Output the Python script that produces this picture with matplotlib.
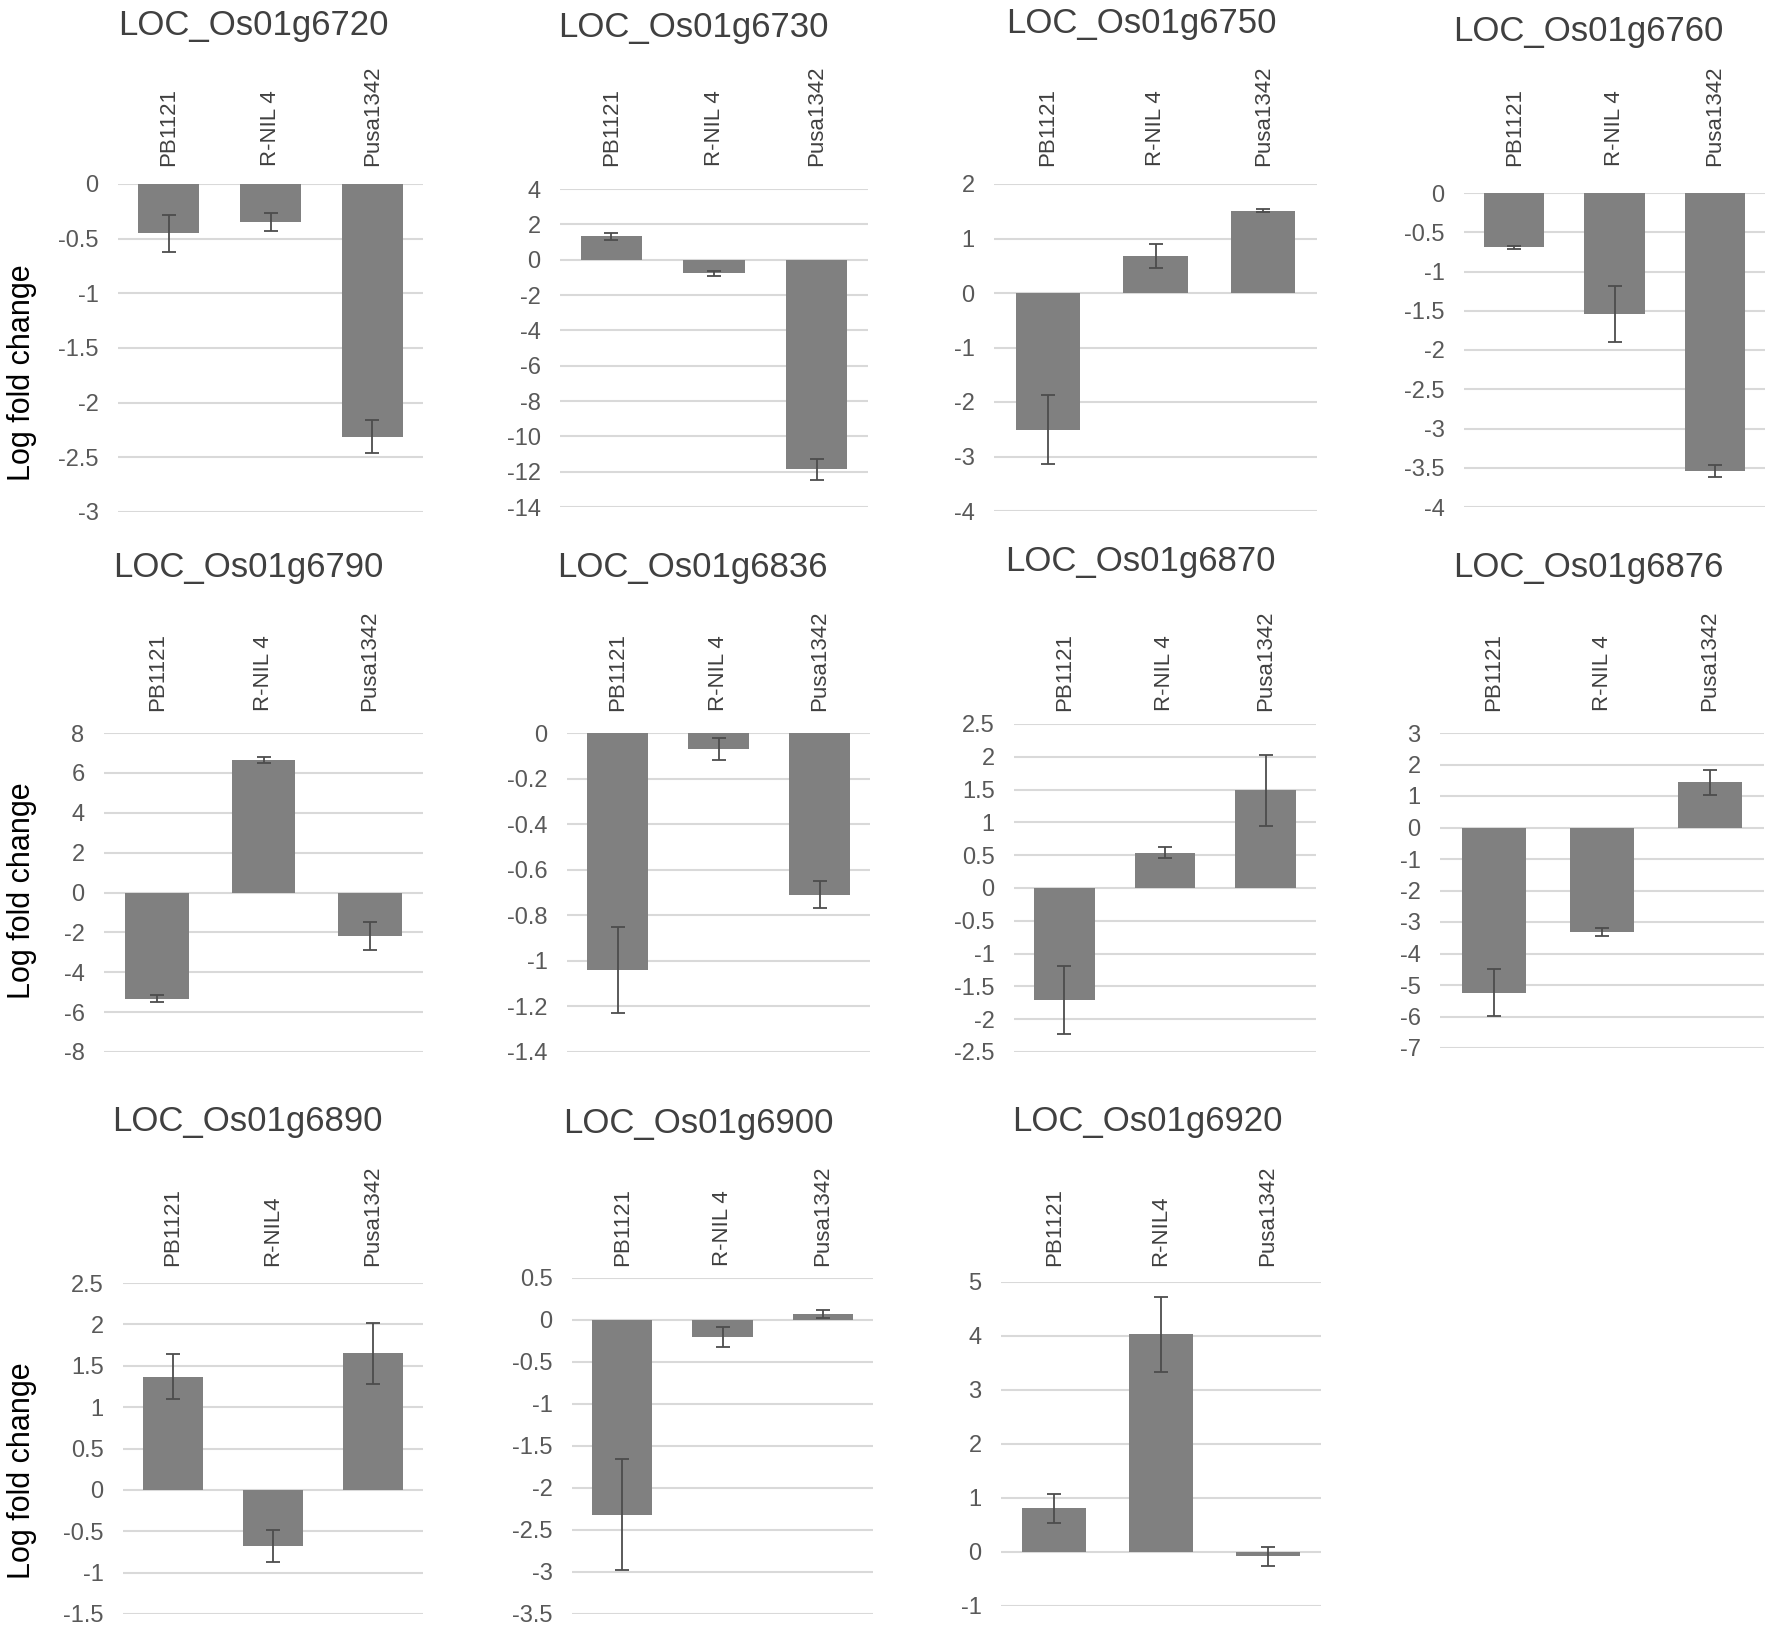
import numpy as np
import matplotlib.pyplot as plt
from matplotlib.transforms import blended_transform_factory

plt.rcParams['axes.unicode_minus'] = False

genes = ["LOC_Os01g6720", "LOC_Os01g6730", "LOC_Os01g6750", "LOC_Os01g6760",
         "LOC_Os01g6790", "LOC_Os01g6836", "LOC_Os01g6870", "LOC_Os01g6876",
         "LOC_Os01g6890", "LOC_Os01g6900", "LOC_Os01g6920"]
varieties = ["PB1121", "R-NIL 4", "Pusa1342"]
varieties_alt = ["PB1121", "R-NIL4", "Pusa1342"]   # spelling used in two panels

# log fold change (PB1121, R-NIL 4, Pusa1342) and error bars
means = [[-0.45, -0.35, -2.31],
         [1.32, -0.78, -11.87],
         [-2.51, 0.68, 1.51],
         [-0.69, -1.54, -3.54],
         [-5.33, 6.66, -2.18],
         [-1.04, -0.07, -0.71],
         [-1.71, 0.54, 1.49],
         [-5.24, -3.33, 1.44],
         [1.37, -0.68, 1.65],
         [-2.32, -0.20, 0.07],
         [0.81, 4.03, -0.08]]
errors = [[0.17, 0.083, 0.15],
          [0.20, 0.12, 0.59],
          [0.63, 0.22, 0.03],
          [0.02, 0.355, 0.08],
          [0.17, 0.15, 0.72],
          [0.19, 0.05, 0.06],
          [0.52, 0.08, 0.54],
          [0.74, 0.13, 0.40],
          [0.27, 0.19, 0.37],
          [0.66, 0.12, 0.045],
          [0.27, 0.69, 0.18]]
y_min = [-3, -14, -4, -4, -8, -1.4, -2.5, -7, -1.5, -3.5, -1]
y_max = [0, 4, 2, 0, 8, 0, 2.5, 3, 2.5, 0.5, 5]
y_step = [0.5, 2, 1, 0.5, 2, 0.2, 0.5, 1, 0.5, 0.5, 1]

# layout in pixels: left, right, top, bottom of each plot area
W, H = 1772, 1629
boxes = [(118, 423, 184, 512), (560, 868, 189, 507), (994, 1317, 184, 511), (1464, 1765, 193, 507),
         (104, 423, 733, 1052), (567, 870, 733, 1052), (1014, 1316, 724, 1052), (1440, 1764, 733, 1048),
         (123, 423, 1283, 1614), (572, 873, 1278, 1614), (1001, 1321, 1282, 1606)]
title_pos = [(253, 25), (693, 27), (1141, 23), (1588, 31),
             (248, 568), (692, 568), (1140, 562), (1588, 568),
             (247, 1122), (698, 1124), (1147, 1122)]
label_base = [166, 166, 166, 166, 711, 711, 711, 711, 1266, 1266, 1266]
ylabel_y = [373, 891, 1471]

sans = ['Liberation Sans', 'DejaVu Sans']

fig = plt.figure(figsize=(W / 100, H / 100), dpi=100)

for i, gene in enumerate(genes):
    l, r, t, b = boxes[i]
    ax = fig.add_axes([l / W, 1 - b / H, (r - l) / W, (b - t) / H])
    x = np.arange(3)
    ax.bar(x, means[i], width=0.6, color='#808080', zorder=2)
    ax.errorbar(x, means[i], yerr=errors[i], fmt='none', ecolor='#4d4d4d',
                elinewidth=1.3, capsize=5, capthick=1.3, zorder=3)
    ax.set_xlim(-0.5, 2.5)
    ax.set_ylim(y_min[i], y_max[i])
    ticks = np.round(np.arange(y_min[i], y_max[i] + y_step[i] / 2, y_step[i]), 2)
    ax.set_yticks(ticks)
    ax.set_yticklabels([f"{v + 0:g}" for v in ticks], family=sans, fontsize=17, color='#595959')
    ax.set_xticks([])
    ax.tick_params(axis='y', length=0, pad=14)
    ax.grid(axis='y', color='#d9d9d9', lw=1.5, zorder=0)
    ax.set_axisbelow(True)
    for s in ax.spines.values():
        s.set_visible(False)

    labels = varieties_alt if i in (8, 10) else varieties
    trans = blended_transform_factory(ax.transData, fig.transFigure)
    for xi, lab in zip(x, labels):
        ax.text(xi, 1 - label_base[i] / H, lab, transform=trans, rotation=90,
                ha='center', va='bottom', fontsize=16, color='#404040', family=sans)

    tx, ty = title_pos[i]
    fig.text(tx / W, 1 - ty / H, gene, ha='center', va='center', fontsize=25,
             color='#404040', family=sans)

for yy in ylabel_y:
    fig.text(22 / W, 1 - yy / H, "Log fold change", rotation=90, ha='center', va='center',
             fontsize=22, color='black', family=sans)

fig.savefig("out.png", dpi=100, facecolor='white')
